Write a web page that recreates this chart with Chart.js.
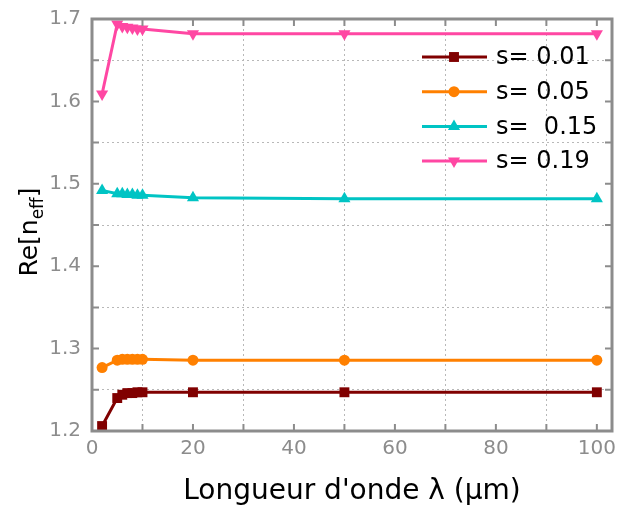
<!DOCTYPE html>
<html>
<head>
<meta charset="utf-8">
<script src="https://cdn.jsdelivr.net/npm/chart.js@4.4.1/dist/chart.umd.min.js"></script>
<style>
  html, body { margin: 0; padding: 0; background: #fff; }
  #wrap { width: 619px; height: 513px; }
</style>
</head>
<body>
<div id="wrap"><canvas id="grafico" width="619" height="513"></canvas></div>
<script>
// longueur d'onde (µm)
const longueurs = [2, 5, 6, 7, 8, 9, 10, 20, 50, 100];
// Re[n_eff] pour chaque s
const s001 = [1.206, 1.240, 1.244, 1.246, 1.246, 1.247, 1.247, 1.247, 1.247, 1.247];
const s005 = [1.277, 1.286, 1.287, 1.287, 1.287, 1.287, 1.287, 1.286, 1.286, 1.286];
const s015 = [1.492, 1.488, 1.488, 1.487, 1.487, 1.486, 1.486, 1.483, 1.482, 1.482];
const s019 = [1.609, 1.694, 1.691, 1.690, 1.689, 1.688, 1.688, 1.682, 1.682, 1.682];
const etiquettes = ['s= 0.01', 's= 0.05', 's=  0.15', 's= 0.19'];
const couleurs = ['#800000', '#ff8000', '#00c4c4', '#ff47a3'];
// graduations
const ticksX = [0, 10, 20, 30, 40, 50, 60, 70, 80, 90, 100];
const ticksY = [1.2, 1.25, 1.3, 1.35, 1.4, 1.45, 1.5, 1.55, 1.6, 1.65, 1.7];

const FONTE = "'DejaVu Sans', Verdana, sans-serif";
const CINZA = '#8c8c8c';
const tailles = { rect: 7, circle: 5.5, triangle: 7 };

function serie(valores, i, estilo, rot) {
  return {
    label: etiquettes[i],
    data: longueurs.map((x, k) => ({ x: x, y: valores[k] })),
    borderColor: couleurs[i],
    backgroundColor: couleurs[i],
    borderWidth: 3,
    pointStyle: estilo,
    pointRotation: rot || 0,
    pointRadius: tailles[estilo],
    pointBorderWidth: 0,
    clip: false
  };
}

const datasets = [
  serie(s001, 0, 'rect'),
  serie(s005, 1, 'circle'),
  serie(s015, 2, 'triangle'),
  serie(s019, 3, 'triangle', 180)
];

// cadre, petites graduations, titre Y et légende
const decor = {
  id: 'decor',
  afterDatasetsDraw(chart) {
    const { ctx, chartArea: a, scales } = chart;
    ctx.save();
    // graduations internes
    ctx.strokeStyle = CINZA;
    ctx.lineWidth = 2;
    const tl = 7;
    scales.x.ticks.forEach(t => {
      const px = scales.x.getPixelForValue(t.value);
      ctx.beginPath();
      ctx.moveTo(px, a.bottom); ctx.lineTo(px, a.bottom - tl);
      ctx.moveTo(px, a.top); ctx.lineTo(px, a.top + tl);
      ctx.stroke();
    });
    scales.y.ticks.forEach(t => {
      const py = scales.y.getPixelForValue(t.value);
      ctx.beginPath();
      ctx.moveTo(a.left, py); ctx.lineTo(a.left + tl, py);
      ctx.moveTo(a.right, py); ctx.lineTo(a.right - tl, py);
      ctx.stroke();
    });
    // cadre
    ctx.lineWidth = 3;
    ctx.strokeRect(a.left, a.top, a.right - a.left, a.bottom - a.top);

    // titre de l'axe Y avec indice
    ctx.fillStyle = '#000';
    ctx.translate(28, 232);
    ctx.rotate(-Math.PI / 2);
    ctx.textBaseline = 'alphabetic';
    ctx.font = '25px ' + FONTE;
    const w1 = ctx.measureText('Re[n').width;
    const w3 = ctx.measureText(']').width;
    ctx.font = '17px ' + FONTE;
    const w2 = ctx.measureText('eff').width;
    const x0 = -(w1 + w2 + w3) / 2;
    ctx.font = '25px ' + FONTE;
    ctx.fillText('Re[n', x0, 9);
    ctx.font = '17px ' + FONTE;
    ctx.fillText('eff', x0 + w1, 15);
    ctx.font = '25px ' + FONTE;
    ctx.fillText(']', x0 + w1 + w2, 9);
    ctx.restore();

    // légende
    ctx.save();
    const lx = 422, ly = 57, pas = 34.7;
    chart.data.datasets.forEach((d, i) => {
      const y = ly + i * pas;
      ctx.strokeStyle = d.borderColor;
      ctx.fillStyle = d.borderColor;
      ctx.lineWidth = 3;
      ctx.beginPath();
      ctx.moveTo(lx, y); ctx.lineTo(lx + 65, y);
      ctx.stroke();
      Chart.helpers.drawPoint(ctx, { pointStyle: d.pointStyle, rotation: d.pointRotation, radius: d.pointRadius, borderWidth: 0 }, lx + 32, y);
      ctx.fillStyle = '#000';
      ctx.font = '24px ' + FONTE;
      ctx.textBaseline = 'middle';
      ctx.fillText(d.label, lx + 74, y + 1);
    });
    ctx.restore();
  }
};

new Chart(document.getElementById('grafico').getContext('2d'), {
  type: 'line',
  data: { datasets: datasets },
  options: {
    responsive: false,
    animation: false,
    layout: { padding: { left: 0, right: 2, top: 0, bottom: 0 } },
    plugins: { legend: { display: false }, tooltip: { enabled: false } },
    scales: {
      x: {
        type: 'linear',
        min: 0,
        max: 103,
        afterBuildTicks: s => { s.ticks = ticksX.map(v => ({ value: v })); },
        afterFit: s => { s.height = 82; s.paddingRight = 0; s.paddingLeft = 0; },
        ticks: {
          color: CINZA,
          font: { family: FONTE, size: 20 },
          padding: 6,
          maxRotation: 0,
          autoSkip: false,
          callback: v => (v % 20 === 0 ? String(v) : '')
        },
        grid: {
          drawTicks: false,
          color: c => (c.tick && c.tick.value % 20 === 10 ? '#b8b8b8' : 'rgba(0,0,0,0)'),
          lineWidth: 1
        },
        border: { display: false, dash: [2, 3] },
        title: {
          display: true,
          text: "Longueur d'onde λ (μm)",
          color: '#000',
          font: { family: FONTE, size: 28 },
          padding: { top: 0, bottom: 4 }
        }
      },
      y: {
        min: 1.2,
        max: 1.7,
        afterBuildTicks: s => { s.ticks = ticksY.map(v => ({ value: v })); },
        afterFit: s => { s.width = 92; },
        ticks: {
          color: CINZA,
          font: { family: FONTE, size: 20, lineHeight: 0.8 },
          padding: 11,
          autoSkip: false,
          callback: v => (Math.round(v * 100) % 10 === 0 ? v.toFixed(1) : '')
        },
        grid: {
          drawTicks: false,
          color: c => (c.tick && Math.round(c.tick.value * 100) % 10 !== 0 ? '#b8b8b8' : 'rgba(0,0,0,0)'),
          lineWidth: 1
        },
        border: { display: false, dash: [2, 3] }
      }
    }
  },
  plugins: [decor]
});
</script>
</body>
</html>
